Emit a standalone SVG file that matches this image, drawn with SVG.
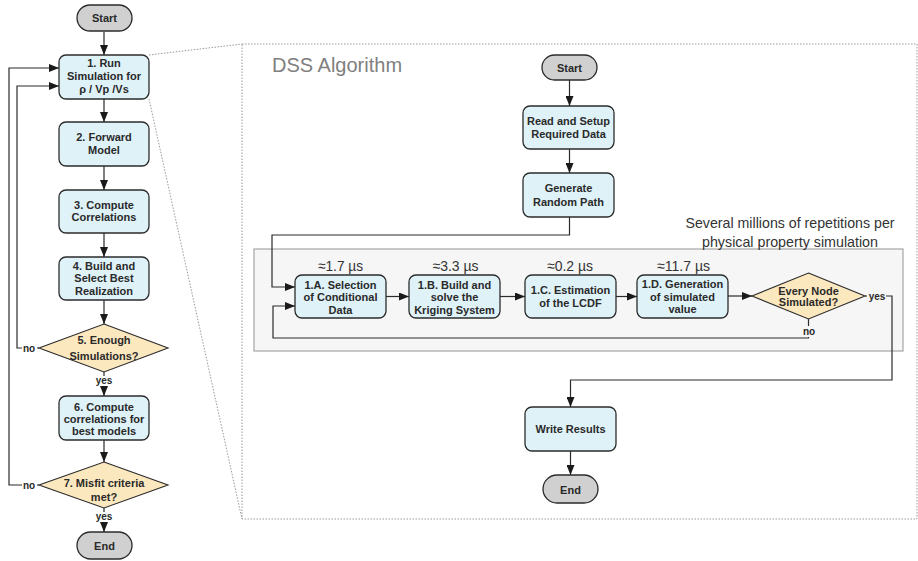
<svg xmlns="http://www.w3.org/2000/svg" width="918" height="561" viewBox="0 0 918 561">
  <defs>
    <marker id="arrow" markerUnits="userSpaceOnUse" markerWidth="10" markerHeight="8" refX="10" refY="4" orient="auto">
      <path d="M0,0 L10,4 L0,8 z" fill="#1a1a1a"/>
    </marker>
    <style>
      .box { fill: #dff2f8; stroke: #2b2b2b; stroke-width: 1.3; }
      .term { fill: #d0d0d0; stroke: #2b2b2b; stroke-width: 1.3; }
      .dec { fill: #fce8bf; stroke: #2b2b2b; stroke-width: 1.1; }
      .t { font-family: "Liberation Sans", Arial, sans-serif; font-size: 11px; font-weight: bold; fill: #2a2a2a; text-anchor: middle; }
      .lbl { font-family: "Liberation Sans", Arial, sans-serif; font-size: 10px; font-weight: bold; fill: #2a2a2a; text-anchor: middle; }
      .time { font-family: "Liberation Sans", Arial, sans-serif; font-size: 15px; fill: #333333; text-anchor: middle; }
      .cap { font-family: "Liberation Sans", Arial, sans-serif; font-size: 15px; fill: #333333; text-anchor: middle; }
      .title { font-family: "Liberation Sans", Arial, sans-serif; font-size: 20px; fill: #808080; }
      .wire { fill: none; stroke: #2b2b2b; stroke-width: 1.2; }
      .dots { fill: none; stroke: #9a9a9a; stroke-width: 1; stroke-dasharray: 1.5 1.5; }
    </style>
  </defs>

  <rect width="918" height="561" fill="#ffffff"/>

  <!-- zoom callout: dotted frame and guide lines -->
  <g id="callout">
    <rect class="dots" x="242" y="44" width="675" height="475"/>
    <line class="dots" x1="149" y1="55" x2="242" y2="44"/>
    <line class="dots" x1="149" y1="99" x2="242" y2="519"/>
  </g>

  <!-- repetition container -->
  <g id="loop-container">
    <rect x="254" y="249" width="649" height="102" fill="#f6f6f6" stroke="#a6a6a6" stroke-width="1.2"/>
  </g>

  <text class="title" x="272" y="72">DSS Algorithm</text>
  <g id="caption">
    <text class="cap" x="790" y="228" textLength="209" lengthAdjust="spacingAndGlyphs">Several millions of repetitions per</text>
    <text class="cap" x="790" y="247" textLength="176" lengthAdjust="spacingAndGlyphs">physical property simulation</text>
  </g>

  <!-- connectors -->
  <g id="connectors">
    <!-- main workflow -->
    <line class="wire" x1="104" y1="32" x2="104" y2="55" marker-end="url(#arrow)"/>
    <line class="wire" x1="104" y1="99" x2="104" y2="122" marker-end="url(#arrow)"/>
    <line class="wire" x1="104" y1="166" x2="104" y2="190" marker-end="url(#arrow)"/>
    <line class="wire" x1="104" y1="233" x2="104" y2="257" marker-end="url(#arrow)"/>
    <line class="wire" x1="104" y1="300" x2="104" y2="324" marker-end="url(#arrow)"/>
    <line class="wire" x1="104" y1="372" x2="104" y2="396" marker-end="url(#arrow)"/>
    <line class="wire" x1="104" y1="440" x2="104" y2="462" marker-end="url(#arrow)"/>
    <line class="wire" x1="104" y1="508" x2="104" y2="532" marker-end="url(#arrow)"/>
    <polyline class="wire" points="39,348 17,348 17,86 59,86" marker-end="url(#arrow)"/>
    <polyline class="wire" points="39,485 9,485 9,68 59,68" marker-end="url(#arrow)"/>

    <!-- DSS algorithm -->
    <line class="wire" x1="569.5" y1="80" x2="569.5" y2="106" marker-end="url(#arrow)"/>
    <line class="wire" x1="569.5" y1="149" x2="569.5" y2="173" marker-end="url(#arrow)"/>
    <polyline class="wire" points="569.5,217 569.5,235 272,235 272,287 295,287" marker-end="url(#arrow)"/>
    <line class="wire" x1="386" y1="296.5" x2="409" y2="296.5" marker-end="url(#arrow)"/>
    <line class="wire" x1="500" y1="296.5" x2="525" y2="296.5" marker-end="url(#arrow)"/>
    <line class="wire" x1="616" y1="296.5" x2="637" y2="296.5" marker-end="url(#arrow)"/>
    <line class="wire" x1="728" y1="296" x2="752" y2="296" marker-end="url(#arrow)"/>
    <polyline class="wire" points="808.5,319 808.5,338 273,338 273,306 295,306" marker-end="url(#arrow)"/>
    <polyline class="wire" points="865,296 892,296 892,380 570.5,380 570.5,407" marker-end="url(#arrow)"/>
    <line class="wire" x1="570.5" y1="451" x2="570.5" y2="475" marker-end="url(#arrow)"/>
  </g>

  <!-- branch labels -->
  <g id="branch-labels">
    <rect x="22" y="343" width="15" height="11" fill="#ffffff"/>
    <text class="lbl" x="29" y="352">no</text>
    <rect x="95" y="376" width="18" height="10" fill="#ffffff"/>
    <text class="lbl" x="104" y="384">yes</text>
    <rect x="22" y="480" width="15" height="11" fill="#ffffff"/>
    <text class="lbl" x="29" y="489">no</text>
    <rect x="95" y="512" width="18" height="10" fill="#ffffff"/>
    <text class="lbl" x="104" y="520">yes</text>
    <rect x="867" y="291" width="19" height="11" fill="#f6f6f6"/>
    <text class="lbl" x="877" y="300">yes</text>
    <rect x="801" y="326" width="16" height="11" fill="#f6f6f6"/>
    <text class="lbl" x="809" y="335">no</text>
  </g>

  <!-- main workflow nodes -->
  <g id="start">
    <rect class="term" x="77" y="5" width="55" height="26" rx="13"/>
    <text class="t" x="104.5" y="22">Start</text>
  </g>
  <g id="run-simulation">
    <rect class="box" x="59" y="55" width="90" height="44" rx="7"/>
    <text class="t" x="104" y="67">1. Run</text>
    <text class="t" x="104" y="80">Simulation for</text>
    <text class="t" x="104" y="93">ρ / Vp /Vs</text>
  </g>
  <g id="forward-model">
    <rect class="box" x="59" y="122" width="90" height="44" rx="7"/>
    <text class="t" x="104" y="141">2. Forward</text>
    <text class="t" x="104" y="154">Model</text>
  </g>
  <g id="compute-correlations">
    <rect class="box" x="59" y="190" width="90" height="43" rx="7"/>
    <text class="t" x="104" y="209">3. Compute</text>
    <text class="t" x="104" y="221">Correlations</text>
  </g>
  <g id="select-best">
    <rect class="box" x="59" y="257" width="90" height="43" rx="7"/>
    <text class="t" x="104" y="270">4. Build and</text>
    <text class="t" x="104" y="282">Select Best</text>
    <text class="t" x="104" y="295">Realization</text>
  </g>
  <g id="enough-simulations">
    <polygon class="dec" points="104,324 168,348 104,372 39,348"/>
    <text class="t" x="104" y="344">5. Enough</text>
    <text class="t" x="104" y="360">Simulations?</text>
  </g>
  <g id="correlations-best">
    <rect class="box" x="59" y="396" width="90" height="44" rx="7"/>
    <text class="t" x="104" y="411">6. Compute</text>
    <text class="t" x="104" y="423">correlations for</text>
    <text class="t" x="104" y="435">best models</text>
  </g>
  <g id="misfit-criteria">
    <polygon class="dec" points="104,462 168,485 104,508 39,485"/>
    <text class="t" x="104" y="487">7. Misfit criteria</text>
    <text class="t" x="104" y="501">met?</text>
  </g>
  <g id="end">
    <rect class="term" x="77" y="532" width="55" height="27" rx="13.5"/>
    <text class="t" x="104.5" y="550">End</text>
  </g>

  <!-- DSS algorithm nodes -->
  <g id="dss-start">
    <rect class="term" x="542" y="55" width="55" height="25" rx="12.5"/>
    <text class="t" x="569.5" y="72">Start</text>
  </g>
  <g id="read-setup">
    <rect class="box" x="523" y="106" width="91" height="43" rx="7"/>
    <text class="t" x="568.5" y="125">Read and Setup</text>
    <text class="t" x="568.5" y="138">Required Data</text>
  </g>
  <g id="random-path">
    <rect class="box" x="523" y="173" width="91" height="44" rx="7"/>
    <text class="t" x="568.5" y="192">Generate</text>
    <text class="t" x="568.5" y="206">Random Path</text>
  </g>
  <g id="step-1a">
    <text class="time" x="340.5" y="271" textLength="45" lengthAdjust="spacingAndGlyphs">≈1.7 µs</text>
    <rect class="box" x="295" y="275" width="91" height="43" rx="7"/>
    <text class="t" x="340.5" y="289">1.A. Selection</text>
    <text class="t" x="340.5" y="301">of Conditional</text>
    <text class="t" x="340.5" y="314">Data</text>
  </g>
  <g id="step-1b">
    <text class="time" x="455.5" y="271" textLength="46" lengthAdjust="spacingAndGlyphs">≈3.3 µs</text>
    <rect class="box" x="409" y="275" width="91" height="43" rx="7"/>
    <text class="t" x="454.5" y="289">1.B. Build and</text>
    <text class="t" x="454.5" y="301">solve the</text>
    <text class="t" x="454.5" y="314">Kriging System</text>
  </g>
  <g id="step-1c">
    <text class="time" x="570" y="271" textLength="46" lengthAdjust="spacingAndGlyphs">≈0.2 µs</text>
    <rect class="box" x="525" y="275" width="91" height="43" rx="7"/>
    <text class="t" x="570.5" y="294">1.C. Estimation</text>
    <text class="t" x="570.5" y="307">of the LCDF</text>
  </g>
  <g id="step-1d">
    <text class="time" x="683.5" y="271" textLength="53" lengthAdjust="spacingAndGlyphs">≈11.7 µs</text>
    <rect class="box" x="637" y="275" width="91" height="43" rx="7"/>
    <text class="t" x="682.5" y="288">1.D. Generation</text>
    <text class="t" x="682.5" y="301">of simulated</text>
    <text class="t" x="682.5" y="313">value</text>
  </g>
  <g id="every-node">
    <polygon class="dec" points="808.5,273 865,296 808.5,319 752,296"/>
    <text class="t" x="808.5" y="295">Every Node</text>
    <text class="t" x="808.5" y="306">Simulated?</text>
  </g>
  <g id="write-results">
    <rect class="box" x="525" y="407" width="91" height="44" rx="7"/>
    <text class="t" x="570.5" y="433">Write Results</text>
  </g>
  <g id="dss-end">
    <rect class="term" x="543" y="475" width="55" height="28" rx="14"/>
    <text class="t" x="570.5" y="494">End</text>
  </g>
</svg>
